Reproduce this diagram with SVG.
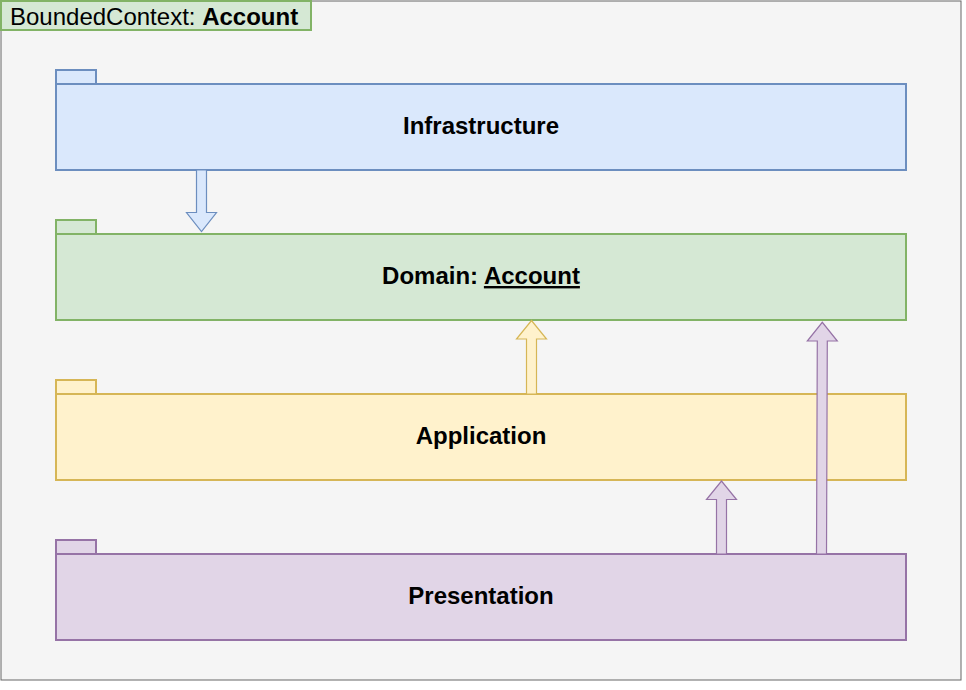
<svg xmlns="http://www.w3.org/2000/svg" width="966" height="690" viewBox="0 0 966 690">
<style>
text{font-family:"Liberation Sans",Arial,sans-serif;fill:#000}
.pkg-lbl{font-size:24px;font-weight:bold;text-anchor:middle}
.blue{fill:#dae8fc;stroke:#6c8ebf;stroke-width:2}
.green{fill:#d5e8d4;stroke:#82b366;stroke-width:2}
.yellow{fill:#fff2cc;stroke:#d6b656;stroke-width:2}
.purple{fill:#e1d5e7;stroke:#9673a6;stroke-width:2}
.arr{stroke-width:1.2;stroke-linejoin:miter}
</style>
<rect width="966" height="690" fill="#ffffff"/>
<g id="boundedContext">
<rect x="1" y="1" width="960" height="679" fill="#f5f5f5" stroke="#666666" stroke-width="1"/>
<rect x="1" y="1" width="310" height="29" class="green"/>
<text x="10" y="25" font-size="24">BoundedContext: <tspan font-weight="bold">Account</tspan></text>
</g>
<g id="infrastructure">
<rect x="56" y="70" width="40" height="14" class="blue"/>
<rect x="56" y="84" width="850" height="86" class="blue"/>
<text x="481" y="134" class="pkg-lbl">Infrastructure</text>
</g>
<g id="domain">
<rect x="56" y="220" width="40" height="14" class="green"/>
<rect x="56" y="234" width="850" height="86" class="green"/>
<text x="481" y="284" class="pkg-lbl">Domain: <tspan text-decoration="underline">Account</tspan></text>
</g>
<g id="application">
<rect x="56" y="380" width="40" height="14" class="yellow"/>
<rect x="56" y="394" width="850" height="86" class="yellow"/>
<text x="481" y="444" class="pkg-lbl">Application</text>
</g>
<g id="presentation">
<rect x="56" y="540" width="40" height="14" class="purple"/>
<rect x="56" y="554" width="850" height="86" class="purple"/>
<text x="481" y="604" class="pkg-lbl">Presentation</text>
</g>
<g id="connectors">
<polygon class="arr" fill="#dae8fc" stroke="#6c8ebf" points="196.5,170 206.5,170 206.5,212.5 216.5,212.5 201.5,231.5 186.5,212.5 196.5,212.5"/>
<polygon class="arr" fill="#fff2cc" stroke="#d6b656" points="526.5,394 536.5,394 536.5,339 546.5,339 531.5,320.5 516.5,339 526.5,339"/>
<polygon class="arr" fill="#e1d5e7" stroke="#9673a6" points="716.5,554 726.5,554 726.5,499.5 736.5,499.5 721.5,481 706.5,499.5 716.5,499.5"/>
<polygon class="arr" fill="#e1d5e7" stroke="#9673a6" points="816.5,554 826.5,554 827.3,341 837.3,341 822.3,322.3 807.3,341 817.3,341"/>
</g>
</svg>
